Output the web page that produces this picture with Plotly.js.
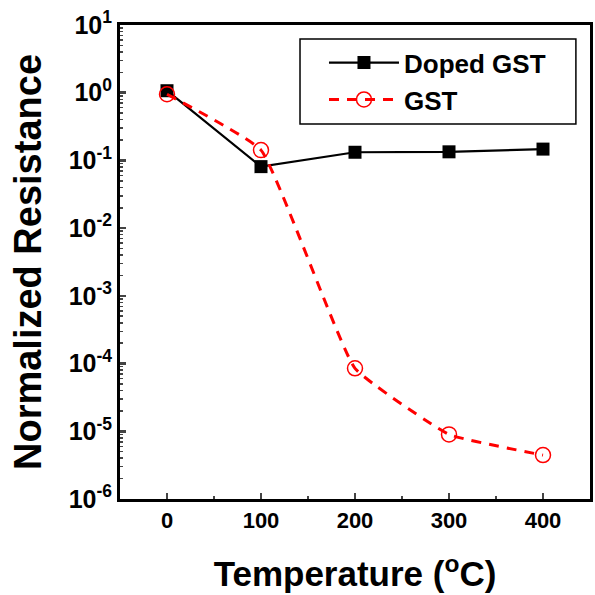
<!DOCTYPE html>
<html><head><meta charset="utf-8">
<script src="https://cdn.plot.ly/plotly-3.0.1.min.js"></script>
<style>body{margin:0;background:#fff}#c{width:595px;height:595px}</style>
</head><body><div id="c"></div>
<script>
const temps = [0, 100, 200, 300, 400];
const dopedGST = [1.07, 0.081, 0.132, 0.134, 0.147];
const gst = [0.95, 0.142, 8.5e-5, 9.0e-6, 4.45e-6];
const yTickVals = [1e-6, 1e-5, 1e-4, 1e-3, 1e-2, 1e-1, 1, 10];
const yTickText = ['10<sup>-6</sup>','10<sup>-5</sup>','10<sup>-4</sup>','10<sup>-3</sup>','10<sup>-2</sup>','10<sup>-1</sup>','10<sup>0</sup>','10<sup>1</sup>'];
const xTickVals = [0, 100, 200, 300, 400];

const F = '"Liberation Sans", Arial, sans-serif';
const traces = [
  {x: temps, y: dopedGST, name: 'Doped GST', mode: 'lines+markers',
   line: {color: '#000', width: 2.2},
   marker: {symbol: 'square', size: 13, color: '#000'}},
  {x: temps, y: gst, name: 'GST', mode: 'lines+markers',
   line: {color: '#ff0000', width: 3, dash: '10px,8px', shape: 'spline', smoothing: 0.35},
   marker: {symbol: 'circle-open', size: 15, color: '#ff0000', line: {width: 1.5, color: '#ff0000'}}}
];
const layout = {
  width: 595, height: 595,
  margin: {l: 120, r: 5, t: 25, b: 96},
  paper_bgcolor: '#fff', plot_bgcolor: '#fff',
  font: {family: F, color: '#000'},
  showlegend: true,
  legend: {x: 0.434, y: 0.97, xanchor: 'left', yanchor: 'top',
    bgcolor: 'rgba(0,0,0,0)', borderwidth: 0,
    font: {family: F, size: 26, weight: 'bold'}, itemwidth: 70},
  shapes: [{type: 'rect', xref: 'paper', yref: 'paper', x0: 0.383, x1: 0.970, y0: 0.791, y1: 0.9705,
    line: {color: '#000', width: 1.5}, fillcolor: '#fff', layer: 'below'}],
  xaxis: {range: [-50, 450], tickvals: xTickVals, ticks: 'inside', ticklen: 6, tickwidth: 2.5,
    showline: true, linewidth: 3, linecolor: '#000', mirror: true, showgrid: false, zeroline: false,
    tickfont: {family: F, size: 22, weight: 'bold'},
    minor: {ticks: 'inside', ticklen: 3, tickwidth: 2, dtick: 50},
    title: {text: 'Temperature (<sup>o</sup>C)', font: {family: F, size: 35, weight: 'bold'}, standoff: 30}},
  yaxis: {type: 'log', range: [-6, 1], tickvals: yTickVals, ticktext: yTickText,
    ticks: 'inside', ticklen: 6, tickwidth: 2.5,
    showline: true, linewidth: 3, linecolor: '#000', mirror: true, showgrid: false, zeroline: false,
    tickfont: {family: F, size: 25, weight: 'bold'},
    minor: {ticks: 'inside', ticklen: 3, tickwidth: 1.5, dtick: 'D1'},
    title: {text: 'Normalized Resistance', font: {family: F, size: 38, weight: 'bold'}, standoff: 16}}
};
Plotly.newPlot('c', traces, layout, {displayModeBar: false, staticPlot: true});
</script></body></html>
